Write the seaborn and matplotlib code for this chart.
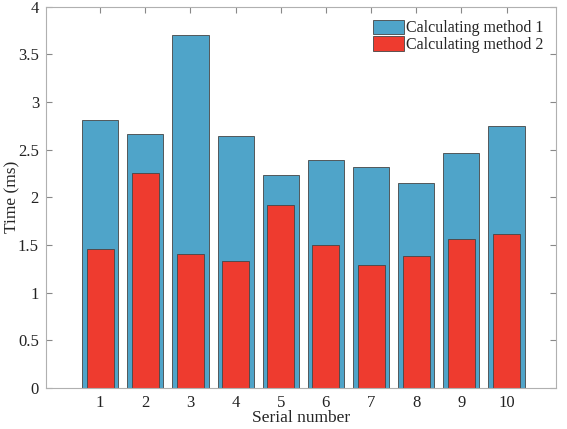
import numpy as np
import pandas as pd
import matplotlib
matplotlib.use('Agg')
import matplotlib.pyplot as plt
import seaborn as sns
from matplotlib.patches import Patch

# ── data ──────────────────────────────────────────────
serial = ['1', '2', '3', '4', '5', '6', '7', '8', '9', '10']
method1 = [2.81, 2.66, 3.70, 2.64, 2.23, 2.39, 2.32, 2.15, 2.47, 2.75]
method2 = [1.46, 2.26, 1.41, 1.33, 1.92, 1.50, 1.29, 1.38, 1.56, 1.62]

df = pd.DataFrame({'serial': serial, 'm1': method1, 'm2': method2})

sns.set_style('ticks')
plt.rcParams['font.family'] = ['Liberation Serif', 'DejaVu Serif']

blue = '#4FA4C9'
red = '#EE3B2F'
edge = '#454545'

fig = plt.figure(figsize=(5.67, 4.29), dpi=100)
ax = fig.add_axes([0.081, 0.096, 0.9, 0.888])

sns.barplot(data=df, x='serial', y='m1', color=blue, width=0.8,
            edgecolor=edge, linewidth=0.6, saturation=1, ax=ax)
sns.barplot(data=df, x='serial', y='m2', color=red, width=0.6,
            edgecolor=edge, linewidth=0.6, saturation=1, ax=ax)

ax.set_xlim(-1.2, 10.1)
ax.set_ylim(0, 4)
ax.set_yticks(np.arange(0, 4.01, 0.5))
ax.set_yticklabels(['0', '0.5', '1', '1.5', '2', '2.5', '3', '3.5', '4'])
ax.set_xlabel('Serial number', fontsize=12.5)
ax.set_ylabel('Time (ms)', fontsize=12.5)
ax.xaxis.set_label_coords(0.5, -0.058)
ax.yaxis.set_label_coords(-0.05, 0.5)

for s in ax.spines.values():
    s.set_color('#b0b0b0')
    s.set_linewidth(0.8)
ax.tick_params(direction='in', top=True, right=True, length=4,
               color='#888888', labelsize=12, labelcolor='#222222', pad=5)

handles = [Patch(facecolor=blue, edgecolor=edge, linewidth=0.6, label='Calculating method 1'),
           Patch(facecolor=red, edgecolor=edge, linewidth=0.6, label='Calculating method 2')]
ax.legend(handles=handles, loc='upper right', frameon=False, fontsize=11.5,
          handlelength=2.0, handleheight=1.0, handletextpad=0.1,
          labelspacing=0.0, borderaxespad=0.4)

fig.savefig('out.png', dpi=100)
